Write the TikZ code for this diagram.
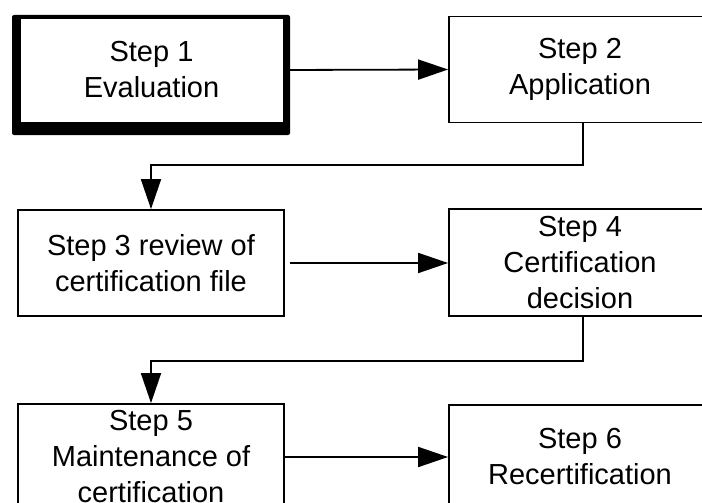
\documentclass[tikz,border=0pt]{standalone}
\usepackage{fontspec}
\setmainfont{Liberation Sans}
\usetikzlibrary{arrows.meta}
\begin{document}
\begin{tikzpicture}[x=1pt,y=-1pt,
  box/.style={draw, line width=1.8pt, rectangle, align=center, inner sep=0pt,
    font=\fontsize{29}{36}\selectfont},
  arr/.style={line width=1.8pt, -{Triangle[length=30pt,width=20pt]}},
  shadowbox/.style={fill=black, rounded corners=2pt}]
\useasboundingbox (0,0) rectangle (702,503);
\clip (0,0) rectangle (702,503);
\fill[shadowbox] (12,15) rectangle (290,135);
\node[box, fill=white, line width=0.8pt, minimum width=263pt, minimum height=104pt] (s1) at (151.5,70) {Step 1\\Evaluation};
\node[box, minimum width=262pt, minimum height=106pt] (s2) at (580,69.5) {Step 2\\Application};
\node[box, minimum width=266pt, minimum height=106pt] (s3) at (151,263) {Step 3 review of\\certification file};
\node[box, minimum width=262pt, minimum height=107pt] (s4) at (580,262.5) {Step 4\\Certification\\decision};
\node[box, minimum width=266pt, minimum height=106pt] (s5) at (151,457) {Step 5\\Maintenance of\\certification};
\node[box, minimum width=262pt, minimum height=104pt] (s6) at (580,457) {Step 6\\Recertification};
\draw[arr] (s1.east) -- (s2.west);
\draw[arr] ([xshift=3pt]s2.south) -- ++(0,41.5) -| (s3.north);
\draw[arr] ([xshift=5pt]s3.east) -- (s4.west |- s3.east);
\draw[arr] ([xshift=3pt]s4.south) -- ++(0,44) -| (s5.north);
\draw[arr] (s5.east) -- (s6.west);
\end{tikzpicture}
\end{document}
